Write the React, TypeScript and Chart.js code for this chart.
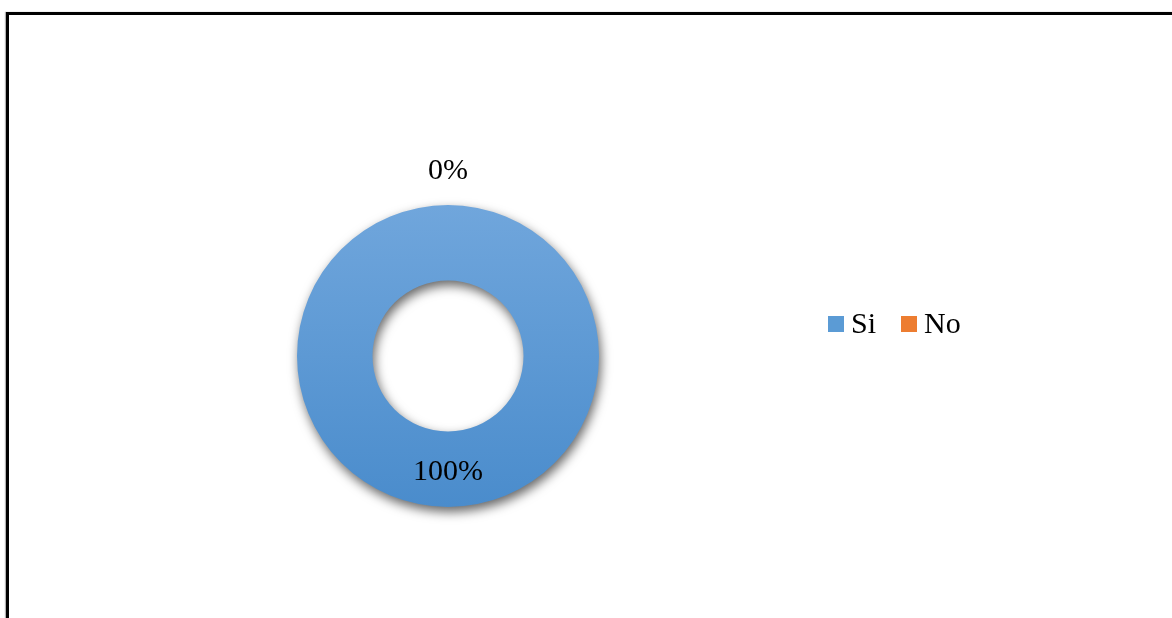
import React, { useEffect, useRef } from "react";
import { Chart, registerables } from "chart.js";

Chart.register(...registerables);

const categories = ["Si", "No"];
const values = [100, 0];
const percentLabels = ["100%", "0%"];
const seriesColors = ["#5b9bd5", "#ed7d31"];

const FONT = "'Liberation Serif', 'Times New Roman', serif";

export default function App() {
  const ref = useRef<HTMLCanvasElement | null>(null);

  useEffect(() => {
    if (!ref.current) return;

    const shadowPlugin = {
      id: "shadowPlugin",
      beforeDatasetsDraw(chart: any) {
        const ctx = chart.ctx;
        ctx.save();
        ctx.shadowColor = "rgba(0,0,0,0.6)";
        ctx.shadowBlur = 11;
        ctx.shadowOffsetX = 2;
        ctx.shadowOffsetY = 5;
      },
      afterDatasetsDraw(chart: any) {
        chart.ctx.restore();
      },
    };

    const labelPlugin = {
      id: "labelPlugin",
      afterDraw(chart: any) {
        const ctx = chart.ctx;
        const meta = chart.getDatasetMeta(0);
        ctx.save();
        ctx.fillStyle = "#000";
        ctx.font = `30px ${FONT}`;
        ctx.textAlign = "center";
        ctx.textBaseline = "middle";
        meta.data.forEach((arc: any, i: number) => {
          const p = arc.getProps(["x", "y", "startAngle", "endAngle", "innerRadius", "outerRadius"], true);
          const mid = (p.startAngle + p.endAngle) / 2;
          let r: number;
          if (values[i] === 0) r = p.outerRadius + 35;
          else r = (p.innerRadius + p.outerRadius) / 2 + 2;
          const x = p.x + Math.cos(mid) * r;
          const y = p.y + Math.sin(mid) * r + 1;
          ctx.fillText(percentLabels[i], x, y);
        });

        // legend
        const legendPos = [
          { box: 828, text: 851 },
          { box: 901, text: 924 },
        ];
        const ly = 324;
        categories.forEach((c, i) => {
          ctx.fillStyle = seriesColors[i];
          ctx.fillRect(legendPos[i].box, ly - 8, 16, 16);
          ctx.fillStyle = "#000";
          ctx.textAlign = "left";
          ctx.fillText(c, legendPos[i].text, ly + 1);
        });
        ctx.restore();
      },
    };

    const chart = new Chart(ref.current, {
      type: "doughnut",
      data: {
        labels: categories,
        datasets: [
          {
            data: values,
            borderWidth: 0,
            backgroundColor: (context: any) => {
              const c = context.chart;
              const area = c.chartArea;
              if (!area) return seriesColors[context.dataIndex];
              const g = c.ctx.createLinearGradient(0, area.top, 0, area.bottom);
              if (context.dataIndex === 0) {
                g.addColorStop(0, "#70a6dc");
                g.addColorStop(1, "#4a8ccc");
              } else {
                g.addColorStop(0, "#f4a070");
                g.addColorStop(1, "#e37525");
              }
              return g;
            },
          },
        ],
      },
      options: {
        responsive: false,
        animation: false,
        cutout: "50%",
        layout: { padding: { left: 297, right: 573, top: 205, bottom: 111 } },
        plugins: {
          legend: { display: false },
          tooltip: { enabled: false },
        },
      },
      plugins: [shadowPlugin, labelPlugin],
    });

    return () => chart.destroy();
  }, []);

  return (
    <div style={{ position: "fixed", left: 0, top: 0, width: 1172, height: 618, background: "#fff", overflow: "hidden" }}>
      <div
        style={{
          position: "absolute",
          left: 6,
          top: 12,
          width: 1300,
          height: 700,
          borderTop: "3px solid #000",
          borderLeft: "3px solid #000",
          boxShadow: "-1px 0 1px rgba(0,0,0,0.3)",
        }}
      />
      <canvas ref={ref} width={1172} height={618} style={{ position: "absolute", left: 0, top: 0 }} />
    </div>
  );
}
